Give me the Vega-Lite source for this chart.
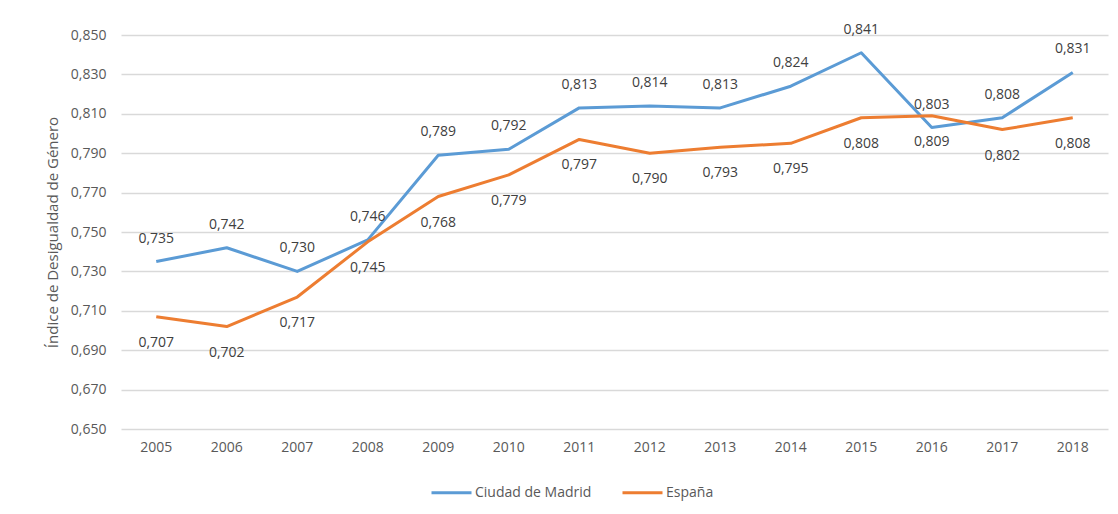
{
  "$schema": "https://vega.github.io/schema/vega-lite/v6.json",
  "width": 987,
  "height": 394,
  "autosize": {"type": "none"},
  "padding": {"left": 121, "top": 35, "right": 10, "bottom": 85},
  "background": "white",
  "config": {
    "locale": {"number": {"decimal": ",", "thousands": ".", "grouping": [3], "currency": ["", " €"]}},
    "font": "Open Sans",
    "view": {"stroke": null},
    "axis": {"labelFont": "Open Sans", "labelColor": "#595959", "labelFontSize": 14, "titleFont": "Open Sans", "titleColor": "#595959", "titleFontSize": 15, "titleFontWeight": "normal"}
  },
  "data": {
    "values": [
      {"year": "2005", "serie": "Ciudad de Madrid", "value": 0.735},
      {"year": "2006", "serie": "Ciudad de Madrid", "value": 0.742},
      {"year": "2007", "serie": "Ciudad de Madrid", "value": 0.730},
      {"year": "2008", "serie": "Ciudad de Madrid", "value": 0.746},
      {"year": "2009", "serie": "Ciudad de Madrid", "value": 0.789},
      {"year": "2010", "serie": "Ciudad de Madrid", "value": 0.792},
      {"year": "2011", "serie": "Ciudad de Madrid", "value": 0.813},
      {"year": "2012", "serie": "Ciudad de Madrid", "value": 0.814},
      {"year": "2013", "serie": "Ciudad de Madrid", "value": 0.813},
      {"year": "2014", "serie": "Ciudad de Madrid", "value": 0.824},
      {"year": "2015", "serie": "Ciudad de Madrid", "value": 0.841},
      {"year": "2016", "serie": "Ciudad de Madrid", "value": 0.803},
      {"year": "2017", "serie": "Ciudad de Madrid", "value": 0.808},
      {"year": "2018", "serie": "Ciudad de Madrid", "value": 0.831},
      {"year": "2005", "serie": "España", "value": 0.707},
      {"year": "2006", "serie": "España", "value": 0.702},
      {"year": "2007", "serie": "España", "value": 0.717},
      {"year": "2008", "serie": "España", "value": 0.745},
      {"year": "2009", "serie": "España", "value": 0.768},
      {"year": "2010", "serie": "España", "value": 0.779},
      {"year": "2011", "serie": "España", "value": 0.797},
      {"year": "2012", "serie": "España", "value": 0.790},
      {"year": "2013", "serie": "España", "value": 0.793},
      {"year": "2014", "serie": "España", "value": 0.795},
      {"year": "2015", "serie": "España", "value": 0.808},
      {"year": "2016", "serie": "España", "value": 0.809},
      {"year": "2017", "serie": "España", "value": 0.802},
      {"year": "2018", "serie": "España", "value": 0.808}
    ]
  },
  "encoding": {
    "x": {
      "field": "year", "type": "ordinal",
      "scale": {"type": "band", "paddingInner": 0, "paddingOuter": 0},
      "axis": {"title": null, "labelAngle": 0, "ticks": false, "domain": false, "labelPadding": 11, "grid": false}
    },
    "y": {
      "field": "value", "type": "quantitative",
      "scale": {"domain": [0.65, 0.85], "nice": false, "zero": false},
      "axis": {"title": "Índice de Desigualdad de Género", "values": [0.65, 0.67, 0.69, 0.71, 0.73, 0.75, 0.77, 0.79, 0.81, 0.83, 0.85], "format": ".3f", "ticks": false, "domain": false, "labelPadding": 15, "titlePadding": 10, "grid": true, "gridColor": "#d9d9d9", "gridWidth": 1.3}
    }
  },
  "layer": [
    {
      "mark": {"type": "line", "strokeWidth": 3, "strokeJoin": "round"},
      "encoding": {
        "color": {
          "field": "serie", "type": "nominal",
          "scale": {"domain": ["Ciudad de Madrid", "España"], "range": ["#5B9BD5", "#ED7D31"]},
          "legend": {"title": null, "orient": "none", "legendX": 309, "legendY": 436, "direction": "horizontal", "symbolType": "stroke", "symbolSize": 1600, "symbolStrokeWidth": 3, "labelFont": "Open Sans", "labelFontSize": 14, "labelColor": "#595959", "labelOffset": 2, "columnPadding": 24}
        }
      }
    },
    {
      "transform": [{"filter": "datum.serie === 'Ciudad de Madrid'"}],
      "mark": {"type": "text", "dy": -23, "fontSize": 14, "color": "#404040", "font": "Open Sans"},
      "encoding": {"text": {"field": "value", "type": "quantitative", "format": ".3f"}}
    },
    {
      "transform": [{"filter": "datum.serie === 'España'"}],
      "mark": {"type": "text", "dy": 26, "fontSize": 14, "color": "#404040", "font": "Open Sans"},
      "encoding": {"text": {"field": "value", "type": "quantitative", "format": ".3f"}}
    }
  ]
}
